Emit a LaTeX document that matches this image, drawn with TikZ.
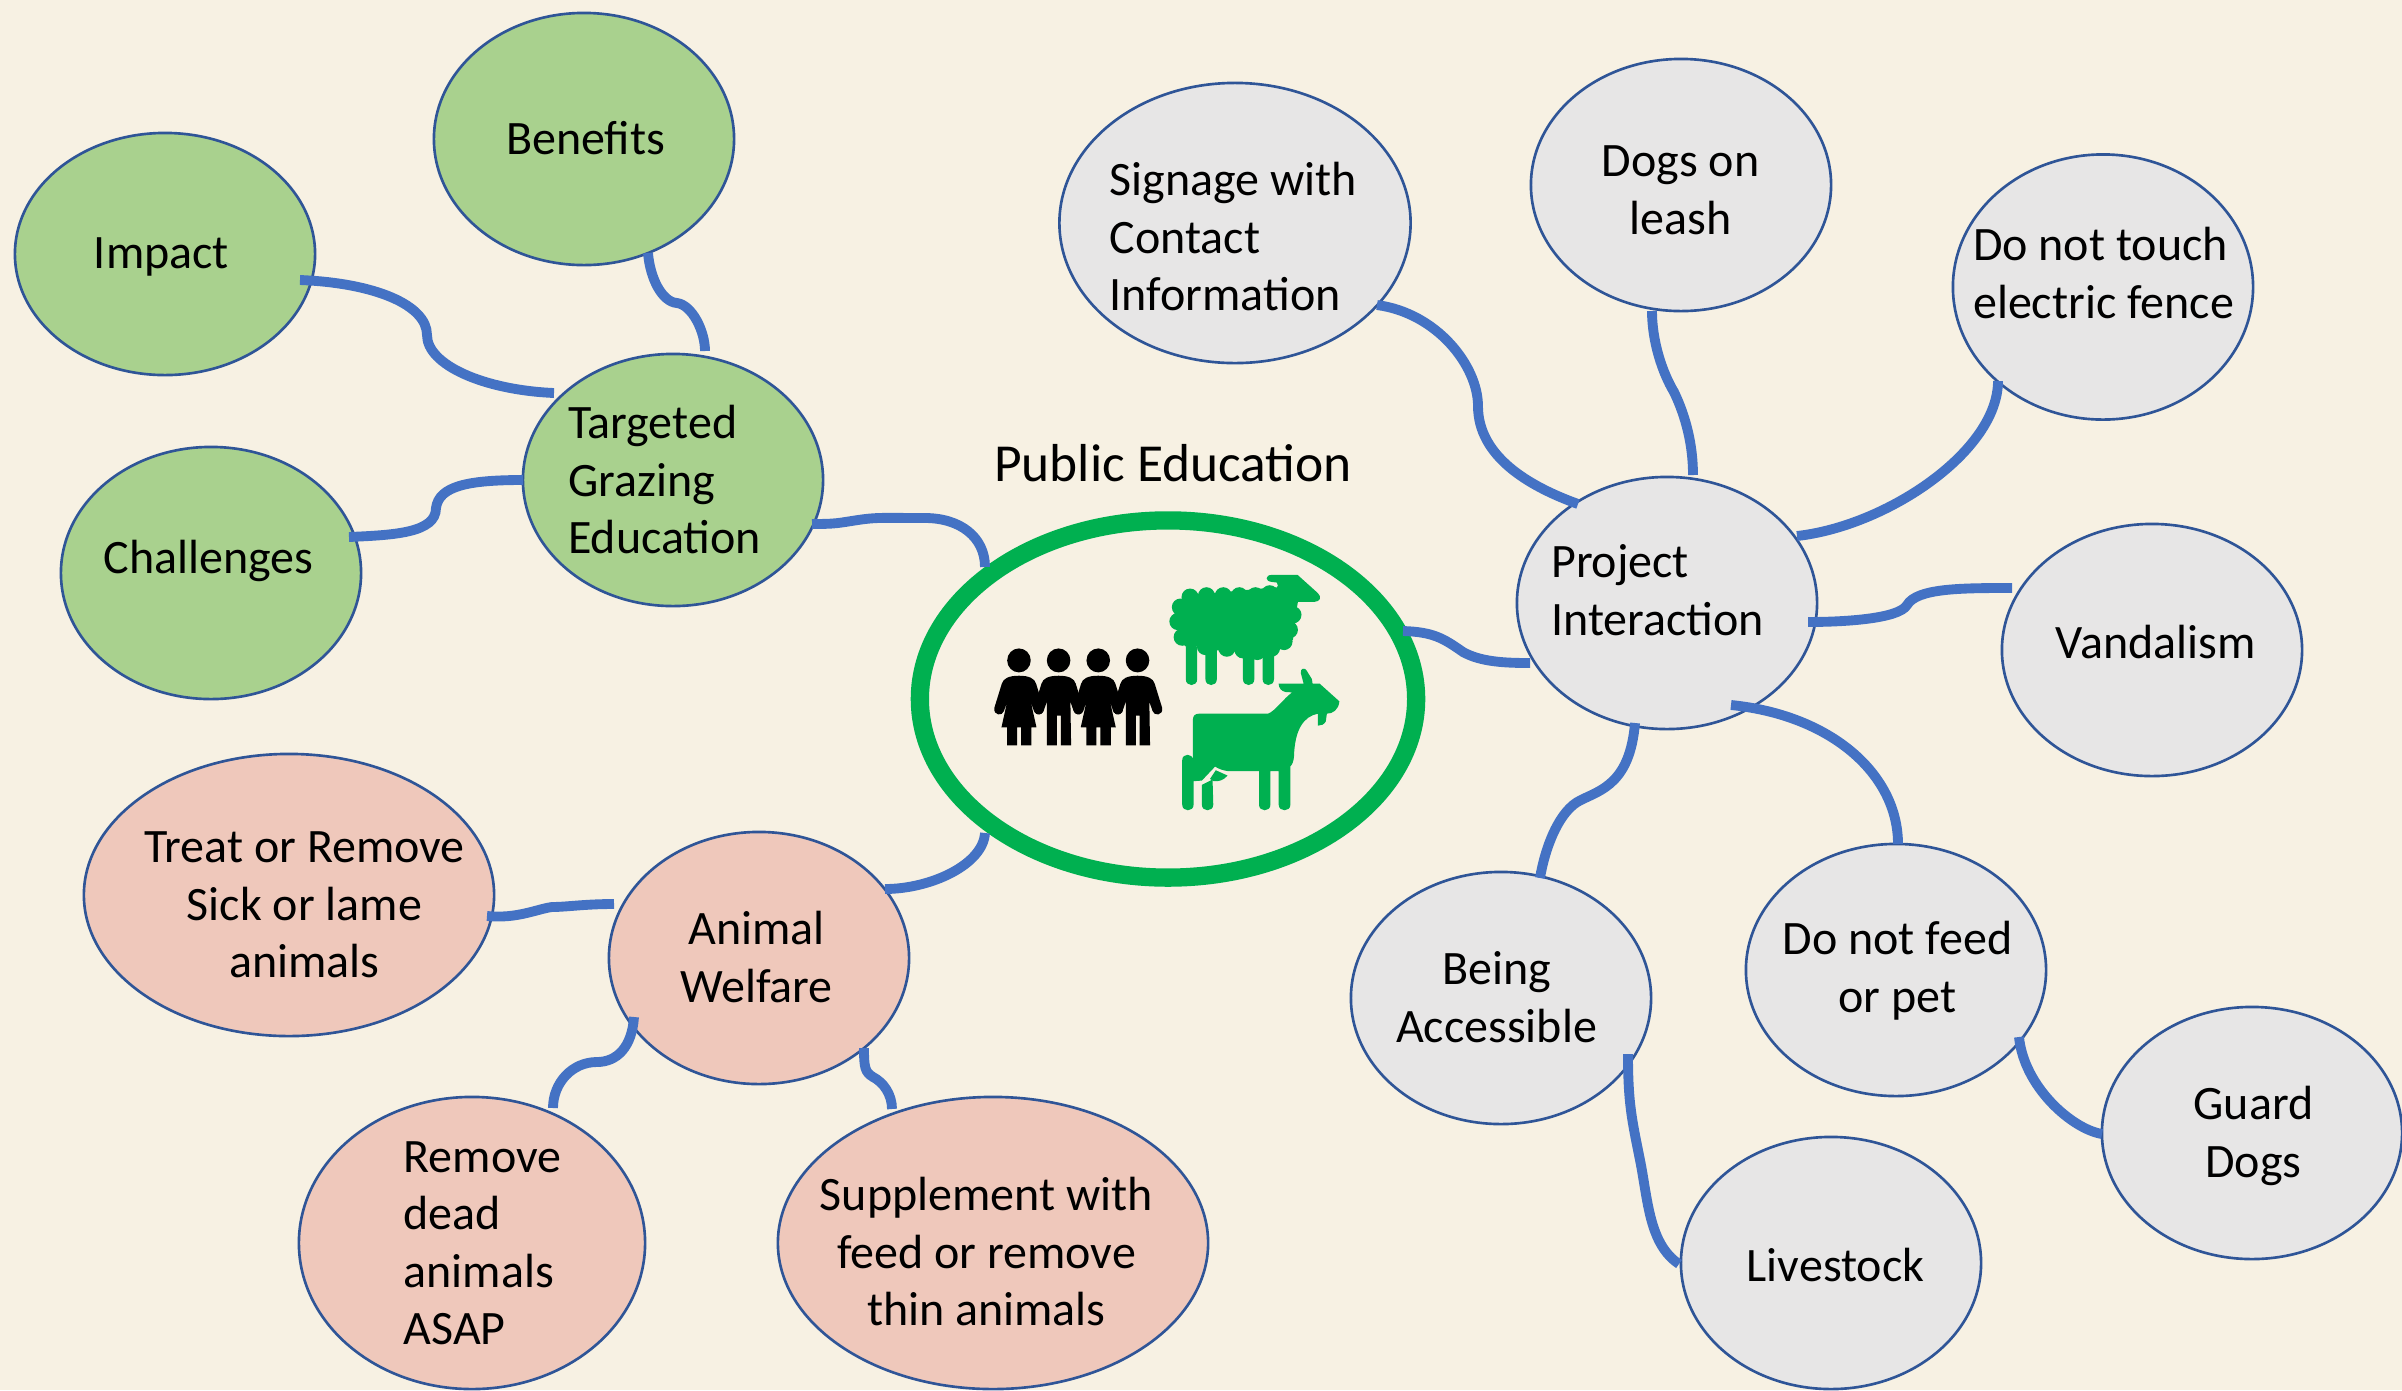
\documentclass[tikz,border=0pt]{standalone}
\usepackage{fontspec}
\setmainfont{Carlito}
\usetikzlibrary{shapes.geometric}
\definecolor{bgc}{HTML}{F7F1E3}
\definecolor{gnfill}{HTML}{A9D18E}
\definecolor{gyfill}{HTML}{E7E6E6}
\definecolor{pkfill}{HTML}{EFC8BB}
\definecolor{edgec}{HTML}{2F5597}
\definecolor{linkc}{HTML}{4472C4}
\definecolor{hubc}{HTML}{00B050}
\newdimen\pxu \pxu=0.284528pt
% offset dx dy (px), alignment, lines
\newcommand\etext[4]{\makebox[0pt]{\kern3\pxu\kern#1\pxu\kern#1\pxu\raisebox{\dimexpr-#2\pxu-4.7pt\relax}[0pt][0pt]{\begin{tabular}[c]{@{}#3@{}}#4\end{tabular}}}}
\tikzset{
  x=0.01cm,y=-0.01cm,
  bub/.style={shape=ellipse,draw=edgec,line width=0.75pt,inner sep=0pt,minimum width=300\pxu,minimum height=252\pxu,font=\fontsize{13.65pt}{16.35pt}\selectfont},
  green bub/.style={bub,fill=gnfill},
  gray bub/.style={bub,fill=gyfill},
  pink bub/.style={bub,fill=pkfill},
  link/.style={draw=linkc,line width=2.8pt,line cap=butt},
  hub/.style={shape=ellipse,draw=hubc,line width=5.2pt,inner sep=0pt,minimum width=496\pxu,minimum height=357\pxu},
  heading/.style={font=\fontsize{15.2pt}{18pt}\selectfont,inner sep=0pt},
  zoomframe/.style={shift={(900,500)},x=0.0035714cm,y=-0.0033333cm},
}
\newcommand\armsandhead{
  (0,528) .. controls (-28,528) and (-44,536) .. (-48,552) -- (-69,625) .. controls (-72,648) and (-46,650) .. (-42,634) -- (-33,606)
}
\newcommand\armsright{
  (33,606) -- (42,634) .. controls (46,650) and (72,648) .. (69,625) -- (48,552) .. controls (44,536) and (28,528) .. (0,528)
}
\newcommand\womanfig[1]{%
  \fill[black,shift={(#1,0)}] (0,482) ellipse [x radius=33,y radius=36];
  \fill[black,shift={(#1,0)}] \armsandhead -- (-49,683) -- (-33,683) -- (-33,737) -- (-5,737) -- (-5,683) -- (6,683) -- (6,737) -- (35,737) -- (35,683) -- (49,683) -- \armsright -- cycle;
}
\newcommand\manfig[1]{%
  \fill[black,shift={(#1,0)}] (0,482) ellipse [x radius=33,y radius=36];
  \fill[black,shift={(#1,0)}] \armsandhead -- (-33,737) -- (-5,737) -- (-5,648) -- (6,648) -- (6,737) -- (35,737) -- \armsright -- cycle;
}
\begin{document}
\begin{tikzpicture}
\useasboundingbox (0,0) rectangle (2402,1390);
\clip (0,0) rectangle (2402,1390);
\fill[bgc] (0,0) rectangle (2402,1390);

% nodes
\node[green bub,minimum height=242\pxu] (impact) at (165,254) {\etext{-5}{-1}{c}{Impact}};
\node[green bub] (benefits) at (584,139) {\etext{0}{0}{c}{Benefits}};
\node[green bub] (challenges) at (211,573) {\etext{-4}{-15}{c}{Challenges}};
\node[green bub] (targeted) at (673,480) {\etext{-10}{1}{l}{Targeted\\Grazing\\Education}};
\node[pink bub] (animal) at (759,958) {\etext{-4}{0}{c}{Animal\\Welfare}};
\node[pink bub,minimum width=410\pxu,minimum height=282\pxu] (treat) at (289,895) {\etext{14}{10}{c}{Treat or Remove\\Sick or lame\\animals}};
\node[pink bub,minimum width=346\pxu,minimum height=292\pxu] (removed) at (472,1243) {\etext{9}{0}{l}{Remove\\dead\\animals\\ASAP}};
\node[pink bub,minimum width=430\pxu,minimum height=292\pxu] (supp) at (993,1243) {\etext{-8}{10}{c}{Supplement with\\feed or remove\\thin animals}};
\node[gray bub,minimum width=351\pxu,minimum height=280\pxu] (signage) at (1235,223) {\etext{-3}{15}{l}{Signage with\\Contact\\Information}};
\node[gray bub] (dogs) at (1681,185) {\etext{-2}{5}{c}{Dogs on\\leash}};
\node[gray bub,minimum height=265\pxu] (touch) at (2103,287) {\etext{-1}{-13}{l}{Do not touch\\electric fence}};
\node[gray bub] (project) at (1667,603) {\etext{-11}{-12}{l}{Project\\Interaction}};
\node[gray bub] (vandal) at (2152,650) {\etext{2}{-7}{c}{Vandalism}};
\node[gray bub] (feed) at (1896,970) {\etext{0}{-2}{c}{Do not feed\\or pet}};
\node[gray bub] (being) at (1501,998) {\etext{-6}{0}{c}{Being\\Accessible}};
\node[gray bub] (guard) at (2252,1133) {\etext{0}{0}{c}{Guard\\Dogs}};
\node[gray bub] (livestock) at (1831,1263) {\etext{3}{3}{c}{Livestock}};
\node[hub] (hubnode) at (1168,699) {};
\node[heading] (title) at (1173,463) {Public Education};

% connectors (second control point is relative to the segment's end)
\draw[link] ([shift={(135,26)}]impact.center) .. controls +(75,3) and +(0,-30) .. (427,335) .. controls +(0,30) and +(-70,-3) .. ([shift={(-119,-87)}]targeted.center);
\draw[link] ([shift={(64,114)}]benefits.center) .. controls +(2,25) and +(-15,-1) .. (677,303) .. controls +(15,2) and +(0,-20) .. ([shift={(32,-129)}]targeted.center);
\draw[link] ([shift={(138,-36)}]challenges.center) .. controls +(45,-2) and +(0,25) .. (436,508) .. controls +(3,-22) and +(-55,0) .. ([shift={(-150,0)}]targeted.center);
\draw[link] ([shift={(139,44)}]targeted.center) .. controls +(25,0) and +(-20,3) .. (858,520) .. controls +(20,-3) and +(-40,0) .. (925,518) .. controls +(35,0) and +(0,-30) .. ([shift={(-183,-132)}]hubnode.center);
\draw[link] ([shift={(235,-68)}]hubnode.center) .. controls +(30,1) and +(-20,-14) .. (1463,652) .. controls +(18,10) and +(-25,0) .. ([shift={(-137,60)}]project.center);
\draw[link] ([shift={(-183,134)}]hubnode.center) .. controls +(-2,32) and +(45,0) .. ([shift={(126,-69)}]animal.center);
\draw[link] ([shift={(142,82)}]signage.center) .. controls +(60,8) and +(0,-40) .. (1478,406) .. controls +(0,50) and +(-50,-18) .. ([shift={(-89,-99)}]project.center);
\draw[link] ([shift={(-29,126)}]dogs.center) .. controls +(0,30) and +(-12,-20) .. (1674,392) .. controls +(12,25) and +(0,-30) .. ([shift={(26,-128)}]project.center);
\draw[link] ([shift={(-105,94)}]touch.center) .. controls +(0,70) and +(90,-10) .. ([shift={(130,-67)}]project.center);
\draw[link] ([shift={(-140,-62)}]vandal.center) .. controls +(-50,0) and +(10,-17) .. (1907,605) .. controls +(-8,14) and +(35,0) .. ([shift={(141,19)}]project.center);
\draw[link] ([shift={(-32,120)}]project.center) .. controls +(-5,60) and +(20,-10) .. (1581,800) .. controls +(-22,10) and +(5,-30) .. ([shift={(39,-120)}]being.center);
\draw[link] ([shift={(64,102)}]project.center) .. controls +(100,10) and +(0,-70) .. ([shift={(2,-126)}]feed.center);
\draw[link] ([shift={(123,67)}]feed.center) .. controls +(5,50) and +(-30,-5) .. ([shift={(-150,1)}]guard.center);
\draw[link] ([shift={(127,56)}]being.center) .. controls +(0,50) and +(-8,-40) .. (1640,1160) .. controls +(8,40) and +(-30,-20) .. ([shift={(-152,1)}]livestock.center);
\draw[link] ([shift={(-145,-54)}]animal.center) .. controls +(-30,0) and +(15,0) .. (552,907) .. controls +(-15,2) and +(30,3) .. ([shift={(198,21)}]treat.center);
\draw[link] ([shift={(-125,59)}]animal.center) .. controls +(-2,30) and +(20,0) .. (597,1062) .. controls +(-25,0) and +(0,-25) .. ([shift={(81,-135)}]removed.center);
\draw[link] ([shift={(105,90)}]animal.center) .. controls +(0,20) and +(-8,-5) .. (873,1077) .. controls +(10,5) and +(0,-15) .. ([shift={(-101,-134)}]supp.center);

% icons
\begin{scope}[zoomframe]
\womanfig{333}
\manfig{444}
\womanfig{555}
\manfig{665}
% sheep
\fill[hubc] (775,320) -- (830,285) -- (1050,262) -- (1115,300) -- (1110,330) -- (1100,420) -- (1040,462) -- (860,450) -- (780,420) -- cycle;
\foreach \cx/\cy in {785/322,778/365,790/412,812/292,858/288,905/288,950/288,995/288,1035/282,1100/345,1090/390,1075/425,1040/445,1000/455,960/450,915/445,855/440,815/420}{
  \fill[hubc] (\cx,\cy) ellipse [x radius=24,y radius=26];
}
\foreach \lx in {800,855,960,1015}{
  \fill[hubc] (\lx,440) -- (\lx+32,440) -- (\lx+32,538) .. controls (\lx+32,562) and (\lx,562) .. (\lx,538) -- cycle;
}
\fill[hubc] (1040,225) -- (1113,225) -- (1170,280) .. controls (1182,292) and (1175,306) .. (1160,306) -- (1100,306) -- (1040,280) -- (1058,258) -- (1055,248) -- (1040,246) .. controls (1022,244) and (1022,226) .. (1040,225) -- cycle;
% goat
\fill[hubc] (820,660) .. controls (820,648) and (826,642) .. (838,642) -- (1030,642) .. controls (1050,635) and (1075,595) .. (1098,578) -- (1080,577) .. controls (1068,575) and (1060,565) .. (1060,552) -- (1130,552) -- (1122,520) .. controls (1120,505) and (1134,503) .. (1138,512) -- (1153,538) -- (1155,552) -- (1175,552) -- (1230,605) .. controls (1228,630) and (1212,642) .. (1195,642) -- (1192,665) .. controls (1188,675) and (1178,678) .. (1170,678) -- (1170,642) .. controls (1130,650) and (1105,690) .. (1103,770) .. controls (1102,785) and (1098,795) .. (1093,800) -- (1093,915) .. controls (1093,938) and (1060,938) .. (1060,915) -- (1060,815) -- (1037,815) -- (1037,915) .. controls (1037,938) and (1005,938) .. (1005,915) -- (1005,815) -- (920,815) .. controls (905,813) and (892,808) .. (882,801) -- (845,843) -- (822,845) -- (822,915) .. controls (822,938) and (790,938) .. (790,915) -- (790,782) .. controls (790,760) and (820,760) .. (820,782) -- cycle;
\fill[hubc] (845,856) -- (875,840) -- (877,915) .. controls (877,938) and (845,938) .. (845,915) -- cycle;
\fill[hubc] (884,812) -- (917,828) .. controls (905,843) and (892,846) .. (878,845) -- (868,838) -- cycle;
\end{scope}
\end{tikzpicture}
\end{document}
